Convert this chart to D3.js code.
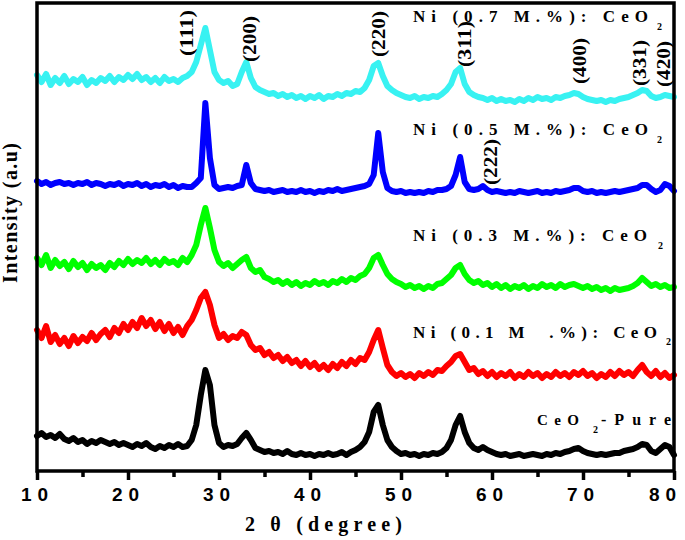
<!DOCTYPE html>
<html lang="en">
<head>
<meta charset="utf-8">
<title>XRD patterns Ni:CeO2</title>
<script src="https://d3js.org/d3.v7.min.js"></script>
<style>
  body { margin: 0; background: #fff; }
  .serif { font-family: "Liberation Serif", "Times New Roman", serif; font-weight: bold; fill: #000; }
  .sans { font-family: "Liberation Sans", Arial, sans-serif; font-weight: bold; fill: #000; }
  .trace { fill: none; stroke-width: 6; stroke-linejoin: round; stroke-linecap: round; }
</style>
</head>
<body>
<div id="chart"></div>
<script>
// scan angles (2 theta, 0.5 degree step)
const angles = d3.range(10, 80.001, 0.5);

// intensities (a.u.), one value per angle
const pure = [35,38,34,36,33,37,32,30,33,29,31,27,30,28,31,29,27,29,26,28,26,24,27,25,28,24,22,25,23,26,24,27,24,25,31,46,76,101,86,46,28,24,26,25,27,33,38,31,23,21,19,20,18,19,17,20,17,16,18,16,17,15,17,16,18,16,17,19,16,19,21,24,29,39,59,66,46,31,24,20,17,18,16,17,15,17,16,18,17,19,23,31,46,55,39,28,23,21,24,21,19,17,16,17,15,16,17,15,16,17,16,15,17,16,18,17,19,20,22,23,20,18,17,16,17,16,17,18,18,20,21,22,24,27,26,20,18,22,26,24,16];
const ni01 = [141,133,145,129,136,127,133,125,135,128,134,130,138,131,137,141,134,143,138,147,141,149,143,153,145,151,142,149,140,147,138,144,136,145,151,161,173,179,166,146,133,137,131,135,133,139,136,126,121,123,116,119,113,116,110,114,108,111,105,110,104,108,102,106,101,107,103,109,105,111,107,113,111,119,131,141,123,106,99,95,98,94,97,93,98,95,99,96,101,100,105,109,115,117,109,101,103,97,100,95,99,94,98,95,99,93,97,94,99,95,98,93,97,94,99,95,98,94,99,96,100,95,98,93,97,94,99,95,100,96,99,95,101,106,99,95,100,94,98,93,96];
const ni03 = [213,206,216,203,211,205,209,202,210,204,208,201,207,203,206,201,208,204,210,206,212,207,211,208,213,207,211,206,212,208,210,206,213,209,216,226,246,263,243,221,209,205,208,203,207,211,214,203,199,201,194,192,189,191,187,190,186,189,185,188,186,190,187,189,186,190,188,192,189,193,191,195,197,203,213,216,206,197,192,189,187,184,186,183,185,182,185,183,187,188,192,196,203,206,197,191,188,190,186,188,184,187,183,186,182,185,183,186,182,185,183,187,184,186,183,187,184,186,187,185,183,185,182,184,181,183,180,183,181,182,183,185,188,193,189,185,187,184,186,183,184];
const ni05 = [290,287,289,286,288,289,287,288,286,288,287,289,286,288,287,285,287,286,288,285,287,286,288,285,287,284,286,285,287,284,286,283,285,284,284,288,293,368,313,286,282,283,284,283,285,286,306,288,282,281,280,281,279,280,281,279,280,279,281,279,280,278,280,279,281,280,282,280,281,282,283,284,285,287,296,338,299,283,280,279,280,278,279,278,279,278,280,279,281,281,282,285,296,314,289,282,281,282,285,281,279,280,279,278,279,278,280,279,278,279,280,278,279,278,280,279,280,281,283,283,280,279,280,278,279,278,279,280,279,280,281,282,283,286,286,282,279,281,287,285,280];
const ni07 = [396,389,397,386,393,388,395,387,392,389,394,386,391,388,393,390,395,389,394,391,396,392,397,391,394,389,393,388,394,390,392,389,393,395,399,409,426,443,421,399,391,388,390,385,387,399,409,393,384,381,379,377,378,375,377,374,376,373,375,372,375,373,376,372,375,374,377,375,378,377,380,379,383,391,405,408,395,385,381,378,376,374,373,375,372,374,373,375,374,377,381,387,399,403,387,379,376,374,373,371,373,370,372,370,371,369,372,370,373,371,374,372,373,371,374,373,375,376,378,377,374,372,371,370,371,369,371,370,372,373,374,376,378,381,380,375,373,374,376,375,374];

const seriesNames = ["Ni (0.7 M.%): CeO", "Ni (0.5 M.%): CeO", "Ni (0.3 M.%): CeO", "Ni (0.1 M  .%): CeO", "CeO"];
const seriesValues = [ni07, ni05, ni03, ni01, pure];
const seriesColors = ["#38f2f2", "#0000ff", "#00ff00", "#ff0000", "#000000"];

const hklNames = ["(111)", "(200)", "(220)", "(311)", "(222)", "(400)", "(331)", "(420)"];
const xTicks = [10, 20, 30, 40, 50, 60, 70, 80];

const w = 685, h = 540;
const plotLeft = 37, plotRight = 674, plotTop = 3, plotBottom = 471;

const svg = d3.select("#chart").append("svg")
    .attr("width", w)
    .attr("height", h);

const xScale = d3.scaleLinear().domain([10, 80]).range([plotLeft, plotRight]);
const yScale = d3.scaleLinear().domain([0, 468]).range([plotBottom, plotTop]);

// traces
const line = d3.line()
    .x((d, i) => xScale(angles[i]))
    .y(d => yScale(d));

svg.selectAll("path.trace")
    .data(seriesValues)
    .enter()
    .append("path")
    .attr("class", "trace")
    .attr("stroke", (d, i) => seriesColors[i])
    .attr("d", line);

// frame
svg.append("rect")
    .attr("x", plotLeft)
    .attr("y", plotTop)
    .attr("width", plotRight - plotLeft)
    .attr("height", plotBottom - plotTop)
    .attr("fill", "none")
    .attr("stroke", "#000")
    .attr("stroke-width", 3.5);

// x axis ticks
const xAxis = d3.axisBottom(xScale)
    .tickValues(xTicks)
    .tickSize(9)
    .tickFormat(d => d);
const gx = svg.append("g")
    .attr("transform", `translate(0, ${plotBottom})`)
    .call(xAxis);
gx.select(".domain").remove();
gx.selectAll(".tick line").attr("stroke-width", 3.5);
gx.selectAll(".tick text")
    .attr("class", "sans")
    .attr("y", 17)
    .attr("dy", "0.71em")
    .attr("dx", d => d === 80 ? -9 : 0)
    .style("font-size", "19px")
    .style("letter-spacing", "6px");

const minor = d3.axisBottom(xScale)
    .tickValues(d3.range(15, 80, 10))
    .tickSize(6)
    .tickFormat("");
const gm = svg.append("g")
    .attr("transform", `translate(0, ${plotBottom})`)
    .call(minor);
gm.select(".domain").remove();
gm.selectAll(".tick line").attr("stroke-width", 3.5);

// axis titles
svg.append("text")
    .attr("class", "serif")
    .attr("x", 245)
    .attr("y", 531)
    .attr("textLength", 157)
    .attr("lengthAdjust", "spacing")
    .style("font-size", "20px")
    .style("white-space", "pre")
    .text("2 θ (degree)");

svg.append("text")
    .attr("class", "serif")
    .attr("transform", "translate(17, 213) rotate(-90)")
    .attr("text-anchor", "middle")
    .attr("textLength", 140)
    .attr("lengthAdjust", "spacing")
    .style("font-size", "20px")
    .text("Intensity (a.u)");

// series labels
const labelPos = [
    {x: 413, y: 22, len: 235, sx: 657, sy: 30, fs: 17},
    {x: 413, y: 135, len: 235, sx: 657, sy: 143, fs: 17},
    {x: 413, y: 241, len: 234, sx: 658, sy: 249, fs: 17},
    {x: 413, y: 338, len: 244, sx: 666, sy: 345, fs: 17},
    {x: 537, y: 425, len: 42, sx: 593, sy: 433, fs: 15}
];
labelPos.forEach((p, i) => {
    svg.append("text")
        .attr("class", "serif")
        .attr("x", p.x)
        .attr("y", p.y)
        .attr("textLength", p.len)
        .attr("lengthAdjust", "spacing")
        .style("font-size", p.fs + "px")
        .style("white-space", "pre")
        .text(seriesNames[i]);
    svg.append("text")
        .attr("class", "serif")
        .attr("x", p.sx)
        .attr("y", p.sy)
        .style("font-size", "10px")
        .text("2");
});
svg.append("text")
    .attr("class", "serif")
    .attr("x", 601)
    .attr("y", 425)
    .attr("textLength", 70)
    .attr("lengthAdjust", "spacing")
    .style("font-size", "16px")
    .text("-Pure");

// reflection labels (rotated)
const hklPos = [[193, 33], [256, 39], [385, 34], [471, 44], [497, 162], [586, 61], [646, 63], [670, 64]];
hklNames.forEach((t, i) => {
    svg.append("text")
        .attr("class", "serif")
        .attr("transform", `translate(${hklPos[i][0]}, ${hklPos[i][1]}) rotate(-90)`)
        .attr("text-anchor", "middle")
        .attr("textLength", 46)
        .attr("lengthAdjust", "spacingAndGlyphs")
        .style("font-size", "18px")
        .text(t);
});
</script>
</body>
</html>
